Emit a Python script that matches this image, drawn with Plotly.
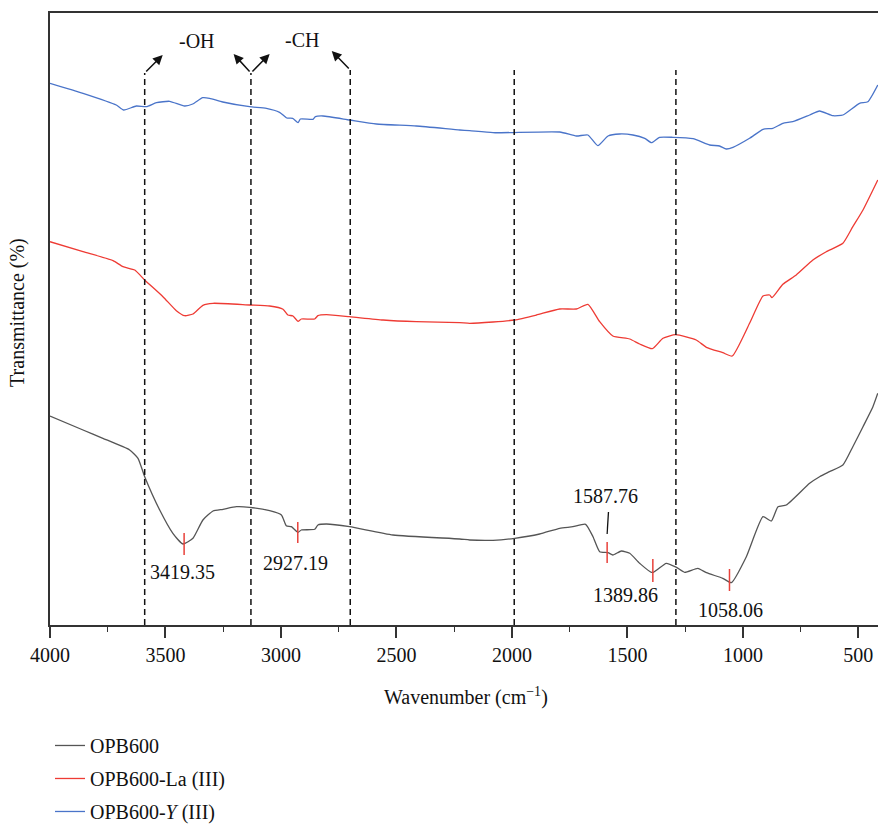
import plotly.graph_objects as go

# ---------------- data ----------------
wn_opb600 = [4000, 3857, 3771, 3655, 3619, 3590, 3525, 3468, 3424, 3381, 3338, 3294, 3251, 3193,
             3136, 3049, 2998, 2977, 2955, 2926, 2912, 2854, 2840, 2803, 2703, 2515, 2226, 2183,
             2082, 1988, 1880, 1793, 1736, 1681, 1649, 1620, 1584, 1563, 1526, 1490, 1447, 1392,
             1332, 1288, 1252, 1195, 1158, 1087, 1050, 985, 913, 877, 848, 812, 711, 668, 625,
             567, 524, 480, 437, 416]
t_opb600 = [209, 195, 186.7, 175, 166.7, 148.3, 115, 91.7, 81, 86.7, 105, 114, 115.7, 118.3,
            117.7, 114.3, 110, 99.3, 98.3, 92.7, 95, 95.7, 100, 101, 98.3, 90, 86, 85,
            84.7, 86.7, 91, 96.7, 98.3, 100.7, 88.3, 73.3, 72.3, 70, 74, 71.7, 61.7, 52.3,
            61.7, 57.7, 52.7, 56.7, 52.3, 46.7, 42.3, 68.3, 108.3, 104, 118.3, 120, 141.7, 148.3, 153.3,
            160, 178.3, 198.3, 218.3, 231.7]

wn_la = [4000, 3857, 3727, 3684, 3633, 3590, 3511, 3453, 3417, 3381, 3338, 3294, 3136, 3049,
         2991, 2970, 2948, 2926, 2912, 2854, 2840, 2803, 2703, 2558, 2414, 2226, 2183, 2082,
         1988, 1894, 1793, 1721, 1671, 1620, 1563, 1490, 1447, 1392, 1346, 1291, 1202, 1158,
         1087, 1046, 971, 913, 884, 874, 827, 769, 697, 639, 567, 524, 480, 437, 416]
t_la = [383.3, 373.3, 364.3, 358.3, 355, 345, 328.3, 314.3, 309.3, 311, 319.7, 321.7, 320, 319,
        315.7, 310, 309, 303.7, 306, 306, 309.3, 310.3, 308.3, 305, 303.3, 302.3, 301.7, 303,
        305, 310, 316, 316, 320.7, 303.3, 289, 286, 281, 276.3, 286.7, 290.3, 285, 277.7,
        272.3, 269, 301.7, 329, 330, 327.3, 340.7, 350, 365, 373.3, 381.7, 398.3, 415, 435, 445]

wn_y = [4000, 3857, 3713, 3681, 3626, 3583, 3539, 3482, 3417, 3382, 3339, 3309, 3252, 3136,
        3063, 3006, 2975, 2949, 2926, 2916, 2861, 2851, 2818, 2703, 2587, 2414, 2226, 2183,
        2082, 1793, 1721, 1671, 1628, 1584, 1534, 1476, 1425, 1396, 1361, 1303, 1216, 1144,
        1101, 1072, 1043, 971, 913, 870, 827, 784, 711, 668, 610, 567, 495, 459, 416]
t_y = [541.7, 531.7, 520, 515, 519, 518.3, 522.3, 523.7, 519, 521, 527.3, 526.7, 523, 518.3,
       516.7, 512.7, 507, 506.7, 502.3, 506, 505.7, 508.3, 509, 505, 501, 499, 495, 494.3,
       492.3, 493, 489, 490, 479.3, 489, 491, 490, 486.7, 482.3, 487.7, 487.7, 486.3, 480,
       479, 476, 477.7, 486.7, 495.7, 496.7, 501.7, 503.3, 510, 514, 509.3, 510, 521.7, 523.3, 540]

series_names = ["OPB600", "OPB600-La (III)", "OPB600-<i>Y</i> (III)"]
series_colors = ["#555555", "#ee3b34", "#4a74c9"]

guide_wn = [3590, 3130, 2700, 1990, 1290]          # dashed reference lines
peak_wn = [3419.35, 2927.19, 1587.76, 1389.86, 1058.06]
peak_labels = ["3419.35", "2927.19", "1587.76", "1389.86", "1058.06"]
x_ticks = [4000, 3500, 3000, 2500, 2000, 1500, 1000, 500]

FONT = "Liberation Serif"

fig = go.Figure()
for wn, t, name, col in zip([wn_opb600, wn_la, wn_y], [t_opb600, t_la, t_y], series_names, series_colors):
    fig.add_trace(go.Scatter(x=wn, y=t, mode="lines", name=name, legendgroup=name,
                             line=dict(color=col, width=1.3, shape="spline", smoothing=0.5)))

# dashed guide lines
guide_top = [552, 552, 555, 555, 555]
for w, top in zip(guide_wn, guide_top):
    fig.add_shape(type="line", x0=w, x1=w, y0=0, y1=top, xref="x", yref="y",
                  line=dict(color="#111111", width=1.5, dash="6px,4px"))

# peak tick marks (red) and labels
tick_spans = [(70, 92), (82, 103), (62, 83), (43, 66), (34, 56)]
label_pos = [(3428, 53), (2935, 62), (1596, 129), (1508, 30), (1053, 15)]
for w, (y0, y1), lab, (lx, ly) in zip(peak_wn, tick_spans, peak_labels, label_pos):
    fig.add_shape(type="line", x0=w, x1=w, y0=y0, y1=y1, xref="x", yref="y",
                  line=dict(color="#e8413a", width=1.5))
    fig.add_annotation(x=lx, y=ly, xref="x", yref="y", text=lab, showarrow=False,
                       font=dict(family=FONT, size=20, color="#111111"))
# leader line for 1587.76
fig.add_shape(type="line", x0=1582, x1=peak_wn[2], y0=113, y1=91, xref="x", yref="y",
              line=dict(color="#111111", width=1.3))

# arrows at top of the guide lines
arrows = [((3590, 552), (3512, 570)), ((3130, 552), (3205, 571)), ((3130, 552), (3049, 571)),
          ((2700, 555), (2780, 574))]
for (tx, ty), (hx, hy) in arrows:
    fig.add_annotation(x=hx, y=hy, ax=tx, ay=ty, xref="x", yref="y", axref="x", ayref="y",
                       text="", showarrow=True, arrowhead=2, arrowsize=1.3, arrowwidth=1.5,
                       arrowcolor="#111111")
fig.add_annotation(x=3365, y=584, xref="x", yref="y", text="-OH", showarrow=False,
                   font=dict(family=FONT, size=20, color="#111111"))
fig.add_annotation(x=2910, y=585, xref="x", yref="y", text="-CH", showarrow=False,
                   font=dict(family=FONT, size=20, color="#111111"))

# axis titles
fig.add_annotation(x=-0.0386, y=0.51, xref="paper", yref="paper", text="Transmittance (%)",
                   textangle=-90, showarrow=False, xanchor="center", yanchor="middle",
                   font=dict(family=FONT, size=20, color="#111111"))
fig.add_annotation(x=0.502, y=-0.1176, xref="paper", yref="paper",
                   text="Wavenumber (cm<sup>\u22121</sup>)", showarrow=False,
                   xanchor="center", yanchor="middle",
                   font=dict(family=FONT, size=20, color="#111111"))

fig.update_layout(
    width=878, height=828,
    margin=dict(l=50, r=0, t=13, b=203, autoexpand=False),
    paper_bgcolor="white", plot_bgcolor="white",
    font=dict(family=FONT, size=20, color="#111111"),
    showlegend=True,
    legend=dict(x=0.0, y=-0.165, xanchor="left", yanchor="top", orientation="v",
                tracegroupgap=4, font=dict(family=FONT, size=20, color="#111111"),
                bgcolor="rgba(0,0,0,0)"),
    xaxis=dict(range=[4000, 415], showgrid=False, zeroline=False, automargin=False,
               showline=True, linecolor="#333333", linewidth=1.5, mirror=True,
               ticks="outside", ticklen=11, tickwidth=1.5, tickcolor="#333333",
               tickvals=x_ticks, tickfont=dict(family=FONT, size=20, color="#111111"),
               minor=dict(dtick=250, ticks="outside", ticklen=5, tickwidth=1.3, tickcolor="#333333")),
    yaxis=dict(range=[0, 612], showgrid=False, zeroline=False, showticklabels=False, automargin=False,
               showline=True, linecolor="#333333", linewidth=1.5, ticks=""),
)

fig.write_html("out.html")
